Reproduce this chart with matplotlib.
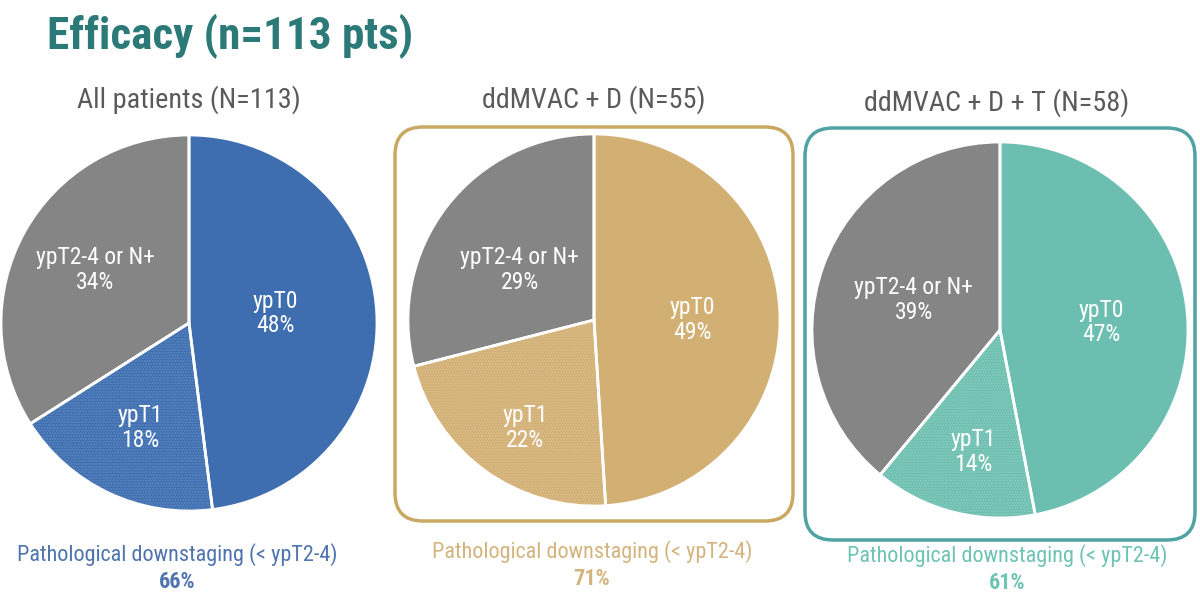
import matplotlib
matplotlib.use('Agg')
import matplotlib.pyplot as plt
from matplotlib import font_manager
from matplotlib.patches import FancyBboxPatch

# narrow sans, close to the slide font
names = set(f.name for f in font_manager.fontManager.ttflist)
font = 'Roboto Condensed' if 'Roboto Condensed' in names else 'Liberation Sans'
plt.rcParams['font.family'] = [font, 'DejaVu Sans']

# data
categories = ['ypT0', 'ypT1', 'ypT2-4 or N+']
all_pts = [48, 18, 34]
ddmvac_d = [49, 22, 29]
ddmvac_d_t = [47, 14, 39]
panel_titles = ['All patients (N=113)', 'ddMVAC + D (N=55)', 'ddMVAC + D + T (N=58)']
downstaging = ['66%', '71%', '61%']
series = [all_pts, ddmvac_d, ddmvac_d_t]

W, H = 1200, 601
fig = plt.figure(figsize=(12, 6.01), dpi=100)
bg = fig.add_axes([0, 0, 1, 1])
bg.set_xlim(0, W)
bg.set_ylim(H, 0)
bg.axis('off')

main_cols = ['#3e6eb0', '#d2af73', '#6cbfb0']
dot_cols = ['#6089c2', '#dcc090', '#8ccdc0']
grey = '#858585'
text_cols = ['#4f74ae', '#d4b47e', '#6ec4b4']

# pie centre / radius in pixels
centres = [(189, 323, 188), (594, 320, 186), (1000, 330, 188)]
label_pos = [
    [(0.46, 0.05), (-0.26, -0.56), (-0.50, 0.28)],
    [(0.53, 0.0), (-0.37, -0.58), (-0.40, 0.27)],
    [(0.54, 0.04), (-0.14, -0.65), (-0.46, 0.16)],
]
title_xy = [(189, 100), (594, 100), (997, 103)]
bottom_xy = [(177, 555), (592, 552), (1007, 556)]

# rounded boxes round pie 2 and 3
boxes = [(395, 127, 793, 521, '#c9a862'), (805, 128, 1195, 540, '#4fa3a3')]
for x0, y0, x1, y1, c in boxes:
    bg.add_patch(FancyBboxPatch((x0 + 28, y0 + 28), x1 - x0 - 56, y1 - y0 - 56,
                                boxstyle='round,pad=28', fc='none', ec=c, lw=2.5))

for i in range(3):
    cx, cy, r = centres[i]
    ax = fig.add_axes([(cx - r) / W, (H - cy - r) / H, 2 * r / W, 2 * r / H])
    cols = [main_cols[i], main_cols[i], grey]
    wedges, _ = ax.pie(series[i], colors=cols, startangle=90, counterclock=False,
                       wedgeprops=dict(linewidth=0))
    # dotted texture on ypT1
    wedges[1].set_hatch('......')
    wedges[1].set_edgecolor(dot_cols[i])
    # white separators
    ax.pie(series[i], colors=['none'] * 3, startangle=90, counterclock=False,
           wedgeprops=dict(linewidth=2, edgecolor='white', fill=False))
    ax.set_xlim(-1, 1)
    ax.set_ylim(-1, 1)
    for k in range(3):
        lx, ly = label_pos[i][k]
        ax.text(lx, ly, categories[k] + '\n' + str(series[i][k]) + '%', ha='center', va='center',
                color='white', fontsize=17, linespacing=1.1)

    tx, ty = title_xy[i]
    bg.text(tx, ty, panel_titles[i], ha='center', va='center', fontsize=20.3, color='#5a5a5a')
    bx, by = bottom_xy[i]
    bg.text(bx, by, 'Pathological downstaging (< ypT2-4)', ha='center', va='center',
            fontsize=16, color=text_cols[i])
    bg.text(bx, by + 27, downstaging[i], ha='center', va='center', fontsize=16,
            fontweight='bold', color=text_cols[i])

bg.text(47, 36, 'Efficacy (n=113 pts)', ha='left', va='center', fontsize=32.5,
        fontweight='bold', color='#2c7a78')

fig.savefig('out.png', dpi=100)
